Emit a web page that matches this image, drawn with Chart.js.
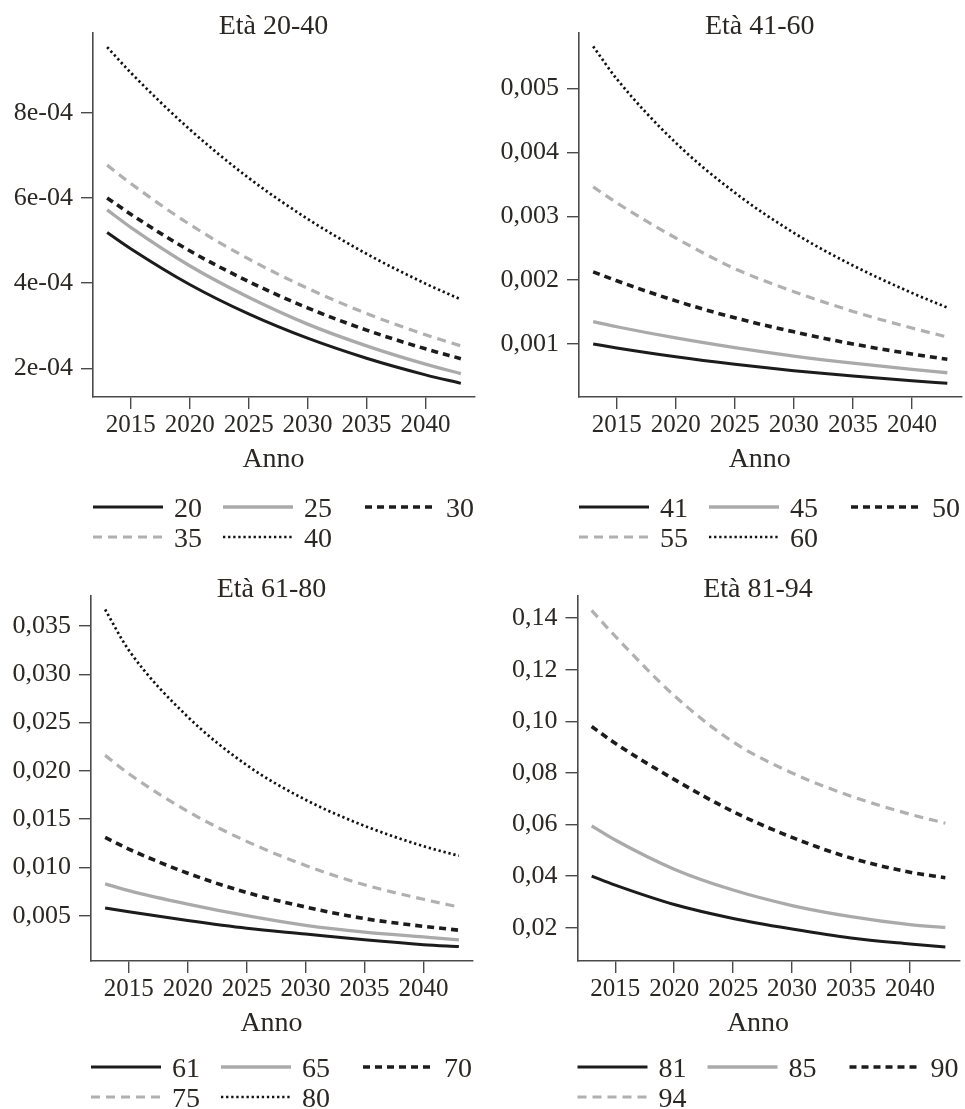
<!DOCTYPE html>
<html lang="it">
<head>
<meta charset="utf-8">
<title>Età 20-94</title>
<script src="https://cdn.jsdelivr.net/npm/chart.js@4.4.1/dist/chart.umd.min.js"></script>
<style>
  html, body { margin: 0; padding: 0; background: #ffffff; }
  #wrap { position: relative; width: 965px; height: 1109px; overflow: hidden; }
  #wrap canvas { position: absolute; left: 0; top: 0; }
</style>
</head>
<body>
<div id="wrap">
  <canvas id="p1" width="965" height="1109"></canvas>
  <canvas id="p2" width="965" height="1109"></canvas>
  <canvas id="p3" width="965" height="1109"></canvas>
  <canvas id="p4" width="965" height="1109"></canvas>
</div>
<script>
// ---- data ----
const years = [2013, 2015, 2020, 2025, 2030, 2035, 2040, 2043];
const yearTicks = [2015, 2020, 2025, 2030, 2035, 2040];
const yearTickLabels = ['2015', '2020', '2025', '2030', '2035', '2040'];
const xTitle = 'Anno';

// Età 20-40
const title1 = 'Età 20-40';
const labels1 = ['20', '25', '30', '35', '40'];
const age20 = [0.000519, 0.000481, 0.000397, 0.000328, 0.000271, 0.000224, 0.000185, 0.000165];
const age25 = [0.000572, 0.000531, 0.000441, 0.000367, 0.000304, 0.000253, 0.000210, 0.000188];
const age30 = [0.000600, 0.000562, 0.000476, 0.000404, 0.000342, 0.000290, 0.000246, 0.000223];
const age35 = [0.000677, 0.000634, 0.000538, 0.000457, 0.000388, 0.000329, 0.000279, 0.000253];
const age40 = [0.000954, 0.000894, 0.000761, 0.000647, 0.000551, 0.000469, 0.000399, 0.000362];
const yTicks1 = [0.0002, 0.0004, 0.0006, 0.0008];
const yTickLabels1 = ['2e-04', '4e-04', '6e-04', '8e-04'];

// Età 41-60
const title2 = 'Età 41-60';
const labels2 = ['41', '45', '50', '55', '60'];
const age41 = [0.00100, 0.000938, 0.000800, 0.000683, 0.000582, 0.000497, 0.000424, 0.000385];
const age45 = [0.00135, 0.00127, 0.001095, 0.000943, 0.000811, 0.000699, 0.000602, 0.000550];
const age50 = [0.00213, 0.00199, 0.001675, 0.00141, 0.00119, 0.00100, 0.000843, 0.000760];
const age55 = [0.00346, 0.00321, 0.00266, 0.00218, 0.00182, 0.00151, 0.00125, 0.00111];
const age60 = [0.00566, 0.00515, 0.00415, 0.00337, 0.00274, 0.00223, 0.00180, 0.00157];
const yTicks2 = [0.001, 0.002, 0.003, 0.004, 0.005];
const yTickLabels2 = ['0,001', '0,002', '0,003', '0,004', '0,005'];

// Età 61-80
const title3 = 'Età 61-80';
const labels3 = ['61', '65', '70', '75', '80'];
const age61 = [0.0058, 0.0054, 0.0045, 0.0037, 0.0031, 0.0025, 0.0020, 0.0018];
const age65 = [0.0083, 0.0076, 0.0062, 0.0050, 0.0040, 0.0033, 0.0028, 0.0025];
const age70 = [0.0131, 0.0119, 0.0094, 0.0074, 0.0059, 0.0047, 0.0039, 0.0035];
const age75 = [0.0216, 0.0197, 0.0158, 0.0127, 0.0102, 0.0082, 0.0067, 0.0059];
const age80 = [0.0367, 0.0325, 0.0256, 0.0206, 0.0170, 0.0143, 0.0122, 0.0112];
const yTicks3 = [0.005, 0.010, 0.015, 0.020, 0.025, 0.030, 0.035];
const yTickLabels3 = ['0,005', '0,010', '0,015', '0,020', '0,025', '0,030', '0,035'];

// Età 81-94
const title4 = 'Età 81-94';
const labels4 = ['81', '85', '90', '94'];
const age81 = [0.0400, 0.0365, 0.0290, 0.0236, 0.0195, 0.0160, 0.0137, 0.0125];
const age85 = [0.0595, 0.0540, 0.0427, 0.0346, 0.0286, 0.0243, 0.0212, 0.0201];
const age90 = [0.0980, 0.0915, 0.0775, 0.0650, 0.0550, 0.0470, 0.0415, 0.0394];
const age94 = [0.1430, 0.1330, 0.1100, 0.0920, 0.0800, 0.0710, 0.0640, 0.0605];
const yTicks4 = [0.02, 0.04, 0.06, 0.08, 0.10, 0.12, 0.14];
const yTickLabels4 = ['0,02', '0,04', '0,06', '0,08', '0,10', '0,12', '0,14'];

// ---- styles ----
const FONT = '"Liberation Serif", "DejaVu Serif", serif';
const TEXT = '#2a2724';
const AXIS = '#4a4a4a';
const BLACK = '#1c1c1c';
const GREY = '#aaaaaa';
const lineStyles = [
  { color: BLACK, width: 3,   dash: [] },          // solid black
  { color: GREY,  width: 3.3, dash: [] },          // solid grey
  { color: BLACK, width: 3.6, dash: [7, 5] },      // dashed black
  { color: '#b0b0b0', width: 3.2, dash: [9, 6] },  // dashed grey
  { color: '#111111', width: 2.7, dash: [2.3, 2.8] } // dotted black
];

// Titles, x-axis caption and the line legend under each panel
const panelDecor = {
  id: 'panelDecor',
  afterDraw(chart, args, opts) {
    const { ctx, chartArea: a } = chart;
    const cx = (a.left + a.right) / 2 - 10.5;
    ctx.save();
    ctx.fillStyle = TEXT;
    ctx.font = '28px ' + FONT;
    ctx.textAlign = 'center';
    ctx.textBaseline = 'alphabetic';
    ctx.fillText(opts.title, cx, a.top + 0.5);
    ctx.fillText(xTitle, cx, a.bottom + 69.5);

    const colOffsets = [0, 130, 272];
    chart.data.datasets.forEach((ds, i) => {
      const row = Math.floor(i / 3), col = i % 3;
      const x0 = a.left + colOffsets[col];
      const y = opts.legendY + row * 30;
      ctx.save();
      ctx.strokeStyle = ds.borderColor;
      ctx.lineWidth = ds.borderWidth;
      ctx.lineCap = 'butt';
      ctx.setLineDash(ds.borderDash || []);
      ctx.beginPath();
      ctx.moveTo(x0, y);
      ctx.lineTo(x0 + 70, y);
      ctx.stroke();
      ctx.restore();
      ctx.textAlign = 'left';
      ctx.fillText(ds.label, x0 + 81, y + 9.5);
    });
    ctx.restore();
  }
};

function makeDatasets(labels, series) {
  return series.map((vals, i) => ({
    label: labels[i],
    data: years.map((yr, k) => ({ x: yr, y: vals[k] })),
    borderColor: lineStyles[i].color,
    borderWidth: lineStyles[i].width,
    borderDash: lineStyles[i].dash,
    borderCapStyle: 'butt',
    fill: false,
    pointRadius: 0,
    cubicInterpolationMode: 'monotone'
  }));
}

const Y_AXIS_W = 80, X_AXIS_H = 60, CW = 965, CH = 1109;

function makePanel(id, area, title, labels, series, yMin, yMax, yTicks, yTickLabels, legendY) {
  new Chart(document.getElementById(id), {
    type: 'line',
    data: { datasets: makeDatasets(labels, series) },
    plugins: [panelDecor],
    options: {
      responsive: false,
      devicePixelRatio: 1,
      animation: false,
      events: [],
      layout: {
        padding: {
          left: area.left - Y_AXIS_W,
          right: CW - area.right,
          top: area.top,
          bottom: CH - area.bottom - X_AXIS_H
        }
      },
      plugins: {
        legend: { display: false },
        title: { display: false },
        tooltip: { enabled: false },
        panelDecor: { title: title, legendY: legendY }
      },
      scales: {
        x: {
          type: 'linear',
          min: 2011.8,
          max: 2044.2,
          afterBuildTicks: (s) => { s.ticks = yearTicks.map(v => ({ value: v })); },
          afterFit: (s) => { s.height = X_AXIS_H; },
          border: { display: true, color: AXIS, width: 1.6 },
          grid: { drawOnChartArea: false, drawTicks: true, tickLength: 12, tickColor: AXIS, lineWidth: 1.4 },
          ticks: {
            autoSkip: false,
            maxRotation: 0,
            padding: 1,
            color: TEXT,
            font: { family: FONT, size: 25, lineHeight: 1.2 },
            callback: (v, i) => yearTickLabels[i]
          }
        },
        y: {
          type: 'linear',
          min: yMin,
          max: yMax,
          afterBuildTicks: (s) => { s.ticks = yTicks.map(v => ({ value: v })); },
          afterFit: (s) => { s.width = Y_AXIS_W; },
          border: { display: true, color: AXIS, width: 1.6 },
          grid: { drawOnChartArea: false, drawTicks: true, tickLength: 12, tickColor: AXIS, lineWidth: 1.4 },
          ticks: {
            autoSkip: false,
            padding: 8,
            color: TEXT,
            font: { family: FONT, size: 26 },
            callback: (v, i) => yTickLabels[i]
          }
        }
      }
    }
  });
}

makePanel('p1', { left: 93, right: 475, top: 33, bottom: 397 }, title1, labels1,
  [age20, age25, age30, age35, age40], 0.000133, 0.000987, yTicks1, yTickLabels1, 507);
makePanel('p2', { left: 579, right: 961.5, top: 33, bottom: 397 }, title2, labels2,
  [age41, age45, age50, age55, age60], 0.00017, 0.00587, yTicks2, yTickLabels2, 507);
makePanel('p3', { left: 91, right: 473, top: 596, bottom: 961 }, title3, labels3,
  [age61, age65, age70, age75, age80], 0.00031, 0.0381, yTicks3, yTickLabels3, 1067);
makePanel('p4', { left: 577.5, right: 959.5, top: 596, bottom: 961 }, title4, labels4,
  [age81, age85, age90, age94], 0.00709, 0.1486, yTicks4, yTickLabels4, 1067);
</script>
</body>
</html>
